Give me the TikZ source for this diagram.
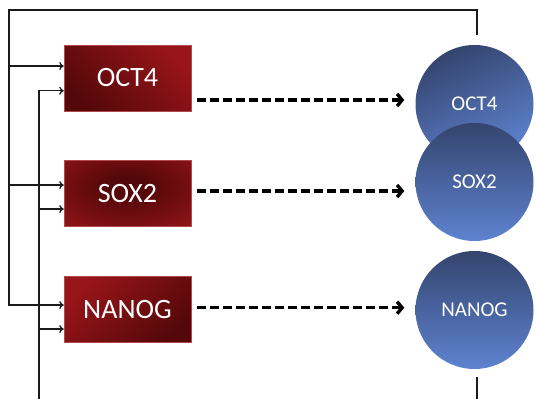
\documentclass[tikz,border=0pt]{standalone}
\usepackage{fontspec}
\newfontfamily\calfont{Carlito}
\usetikzlibrary{arrows.meta,calc}
\definecolor{boxbright}{HTML}{981519}
\definecolor{boxdark}{HTML}{55080A}
\definecolor{boxedge}{HTML}{B04A4C}
\definecolor{circtop}{HTML}{34446E}
\definecolor{circbot}{HTML}{5E83D0}
\definecolor{linecol}{HTML}{1A1A1A}
\pgfdeclareradialshading{soxshade}{\pgfpoint{0bp}{6bp}}{color(0bp)=(boxdark); color(8bp)=(boxdark); color(42bp)=(boxbright); color(100bp)=(boxbright)}
\tikzset{
  genebox/.style={rectangle, minimum width=127pt, minimum height=66pt, inner sep=0pt,
    draw=boxedge, line width=0.5pt, text=white, font=\calfont\fontsize{28}{30}\selectfont},
  protcirc/.style={circle, minimum size=118pt, inner sep=0pt, text=white,
    font=\calfont\fontsize{21}{24}\selectfont},
  fb/.style={draw=linecol, line width=1.3pt},
  fbarrow/.style={fb, -{To[length=4.5pt,width=8pt]}},
  dasharrow/.style={draw=black, line width=3.4pt, dash pattern=on 9pt off 4pt,
    -{Straight Barb[length=5pt,width=12pt]}},
}
\begin{document}
\begin{tikzpicture}[x=1pt,y=-1pt]
\useasboundingbox (0,0) rectangle (536,399);
% gene boxes
\node[genebox, top color=boxbright, bottom color=boxdark, shading angle=-45] (b1) at (127.5,78) {OCT4};
\node[genebox, shading=soxshade] (b2) at (127.5,193.5) {SOX2};
\node[genebox, top color=boxbright, bottom color=boxdark, shading angle=45] (b3) at (127.5,309.5) {NANOG};
% protein circles
\node[protcirc, top color=circtop, bottom color=circbot, shading angle=25] (c1) at (474.5,104) {OCT4};
\node[protcirc, top color=circtop, bottom color=circbot] (c2) at (474.5,182) {SOX2};
\node[protcirc, top color=circtop, bottom color=circbot] (c3) at (474.5,310) {NANOG};
% dashed arrows
\draw[dasharrow] ([xshift=6pt,yshift=-22pt]b1.east) -- ([xshift=-11pt,yshift=4pt]c1.west);
\draw[dasharrow] ([xshift=6pt,yshift=2.5pt]b2.east) -- ([xshift=-11pt,yshift=-9pt]c2.west);
\draw[dasharrow] ([xshift=6pt,yshift=1.8pt]b3.east) -- ([xshift=-11pt,yshift=2.3pt]c3.west);
% outer feedback loop
\coordinate (fbtop) at (477,35);
\coordinate (fbcorner) at (9,10);
\draw[fbarrow] (fbtop) |- (fbcorner) |- ([yshift=4.5pt]b3.west);
\draw[fbarrow] ([yshift=12pt]b1.west -| fbcorner) -- ([yshift=12pt]b1.west);
\draw[fbarrow] ([yshift=8.5pt]b2.west -| fbcorner) -- ([yshift=8.5pt]b2.west);
% inner feedback loop
\coordinate (fbbot) at (477,377);
\coordinate (fbbotcorner) at (39,403);
\draw[fbarrow] (fbbot) |- (fbbotcorner) |- ([yshift=-12.7pt]b1.west);
\draw[fbarrow] ([yshift=-15.5pt]b2.west -| fbbotcorner) -- ([yshift=-15.5pt]b2.west);
\draw[fbarrow] ([yshift=-19.5pt]b3.west -| fbbotcorner) -- ([yshift=-19.5pt]b3.west);
\end{tikzpicture}
\end{document}
